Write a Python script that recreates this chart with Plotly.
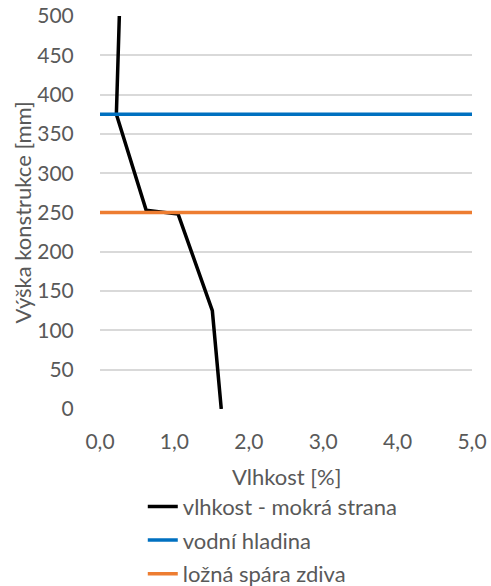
import plotly.graph_objects as go

# data
vlhkost_x = [1.63, 1.51, 1.05, 0.62, 0.22, 0.24, 0.26]
vlhkost_y = [0, 125, 248, 253, 375, 437, 500]
hladina_x = [0, 5]
hladina_y = [375, 375]
spara_x = [0, 5]
spara_y = [250, 250]
x_ticks = [0, 1, 2, 3, 4, 5]
x_labels = ["0,0", "1,0", "2,0", "3,0", "4,0", "5,0"]

grey = "#595959"
font = "Lato"

fig = go.Figure()
fig.add_trace(go.Scatter(x=vlhkost_x, y=vlhkost_y, mode="lines",
                         line=dict(color="black", width=3.5), legendgroup="a",
                         name="vlhkost - mokrá strana"))
fig.add_trace(go.Scatter(x=hladina_x, y=hladina_y, mode="lines",
                         line=dict(color="#0070C0", width=3.5), legendgroup="b",
                         name="vodní hladina"))
fig.add_trace(go.Scatter(x=spara_x, y=spara_y, mode="lines",
                         line=dict(color="#ED7D31", width=3.5), legendgroup="c",
                         name="ložná spára zdiva"))

fig.update_layout(
    width=491, height=586,
    margin=dict(l=100, r=19, t=16, b=177, autoexpand=False),
    paper_bgcolor="white", plot_bgcolor="white",
    font=dict(family=font, color=grey, size=21),
    showlegend=True,
    legend=dict(x=0.115, y=-0.195, xanchor="left", yanchor="top",
                font=dict(size=22, color=grey), tracegroupgap=2,
                bgcolor="rgba(0,0,0,0)"),
    xaxis=dict(range=[0, 5], tickvals=x_ticks, ticktext=x_labels,
               showgrid=False, zeroline=False, showline=False,
               ticks="outside", ticklen=14, tickcolor="rgba(0,0,0,0)",
               tickfont=dict(size=21, color=grey), ticklabeloverflow="allow"),
    yaxis=dict(range=[0, 500], dtick=50,
               showgrid=True, gridcolor="#D9D9D9", gridwidth=1.5,
               zeroline=False, showline=False,
               ticks="outside", ticklen=21, tickcolor="rgba(0,0,0,0)",
               tickfont=dict(size=21, color=grey), ticklabeloverflow="allow"),
    annotations=[
        dict(text="Výška konstrukce [mm]", xref="paper", yref="paper",
             x=-0.207, y=0.5, xanchor="center", yanchor="middle",
             textangle=-90, showarrow=False,
             font=dict(size=22, color=grey, family=font)),
        dict(text="Vlhkost [%]", xref="paper", yref="paper",
             x=0.5, y=-0.173, xanchor="center", yanchor="middle",
             showarrow=False, font=dict(size=22, color=grey, family=font)),
    ],
)

fig.write_html("out.html", config={"displayModeBar": False},
               post_script="document.body.style.margin='0';document.body.style.overflow='hidden';")
